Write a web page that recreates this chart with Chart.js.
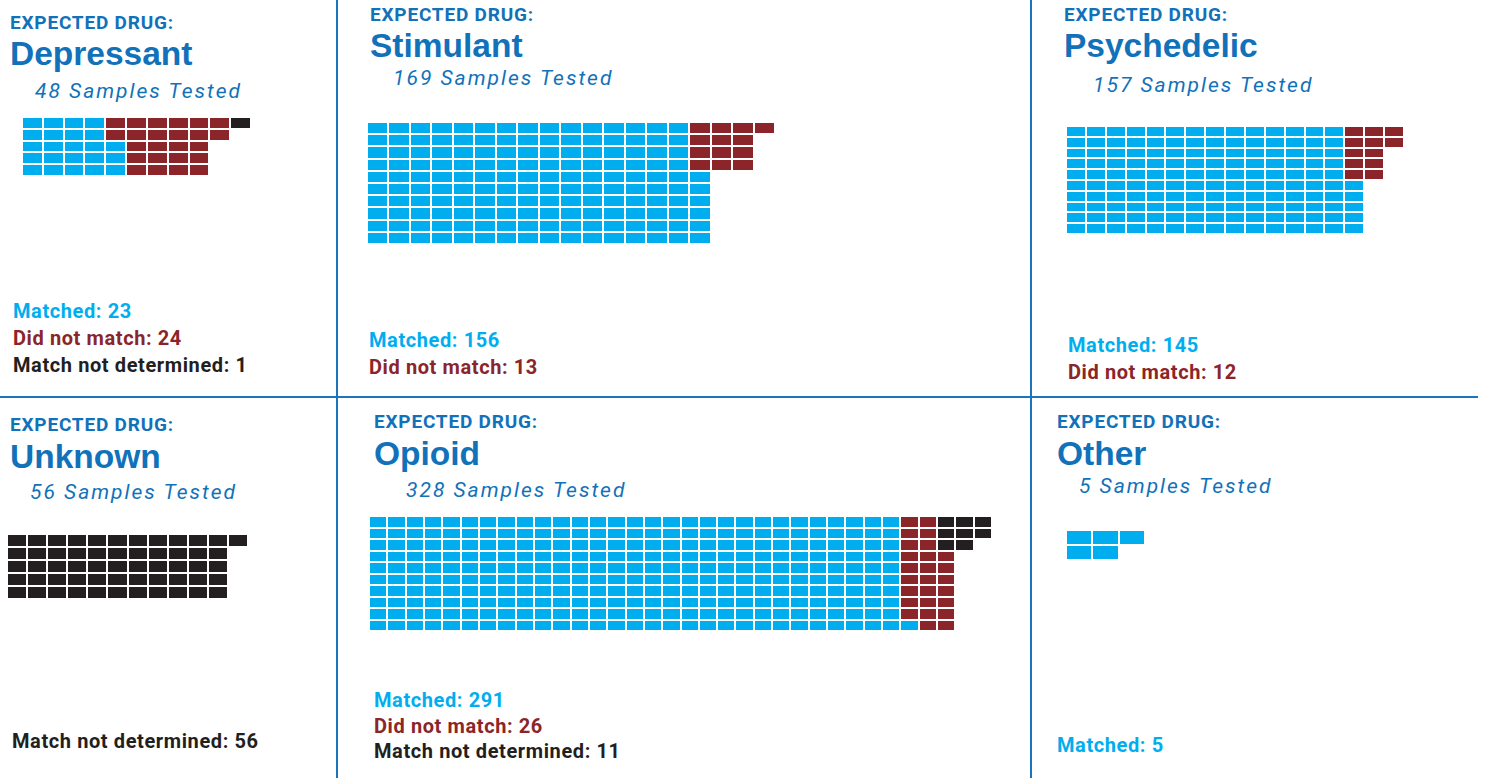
<!DOCTYPE html>
<html>
<head>
<meta charset="utf-8">
<script src="https://cdn.jsdelivr.net/npm/chart.js@4.4.0/dist/chart.umd.min.js"></script>
<style>
  body { margin: 0; background: #fff; width: 1485px; height: 778px; position: relative; overflow: hidden; font-family: Roboto, sans-serif; }
  .t { position: absolute; white-space: nowrap; line-height: 1; }
  .head { font-weight: 700; color: #1172ba; letter-spacing: 0.8px; }
  .name { font-family: "Liberation Sans", Arial, sans-serif; font-weight: 700; color: #1172ba; }
  .count { font-style: italic; font-weight: 400; color: #1172ba; letter-spacing: 2px; }
  .lab { font-weight: 700; letter-spacing: 0.6px; }
  .rule { position: absolute; background: #1a75bc; }
  canvas { position: absolute; }
</style>
</head>
<body>
<div class="rule" style="left:336px;top:0;width:2px;height:778px"></div>
<div class="rule" style="left:1030px;top:0;width:2px;height:778px"></div>
<div class="rule" style="left:0;top:396px;width:1478px;height:2px"></div>
<script>
const drugs = ['Depressant', 'Stimulant', 'Psychedelic', 'Unknown', 'Opioid', 'Other'];
const samplesTested = [48, 169, 157, 56, 328, 5];
const matchedTotals = [23, 156, 145, 0, 291, 5];
const notMatchedTotals = [24, 13, 12, 0, 26, 0];
const notDeterminedTotals = [1, 0, 0, 56, 11, 0];

// squares per row of each waffle, top row first
const depressantMatched = [4, 4, 5, 5, 5];
const depressantNotMatched = [6, 6, 4, 4, 4];
const depressantUndetermined = [1, 0, 0, 0, 0];

const stimulantMatched = [15, 15, 15, 15, 16, 16, 16, 16, 16, 16];
const stimulantNotMatched = [4, 3, 3, 3, 0, 0, 0, 0, 0, 0];
const stimulantUndetermined = [0, 0, 0, 0, 0, 0, 0, 0, 0, 0];

const psychedelicMatched = [14, 14, 14, 14, 14, 15, 15, 15, 15, 15];
const psychedelicNotMatched = [3, 3, 2, 2, 2, 0, 0, 0, 0, 0];
const psychedelicUndetermined = [0, 0, 0, 0, 0, 0, 0, 0, 0, 0];

const unknownMatched = [0, 0, 0, 0, 0];
const unknownNotMatched = [0, 0, 0, 0, 0];
const unknownUndetermined = [12, 11, 11, 11, 11];

const opioidMatched = [29, 29, 29, 29, 29, 29, 29, 29, 29, 30];
const opioidNotMatched = [2, 2, 2, 3, 3, 3, 3, 3, 3, 2];
const opioidUndetermined = [3, 3, 2, 0, 0, 0, 0, 0, 0, 0];

const otherMatched = [3, 2];
const otherNotMatched = [0, 0];
const otherUndetermined = [0, 0];

const waffleRows = [
  [depressantMatched, depressantNotMatched, depressantUndetermined],
  [stimulantMatched, stimulantNotMatched, stimulantUndetermined],
  [psychedelicMatched, psychedelicNotMatched, psychedelicUndetermined],
  [unknownMatched, unknownNotMatched, unknownUndetermined],
  [opioidMatched, opioidNotMatched, opioidUndetermined],
  [otherMatched, otherNotMatched, otherUndetermined]
];

const BLUE = '#00aeef';
const RED = '#8b2529';
const BLACK = '#231f20';

// where each panel sits on the page (baselines in px)
const panels = [
  { x: 10, head: 29, name: 65, countX: 35, count: 99, grid: [23, 118, 227, 57], cols: 11, labX: 13, lab: 318, gap: 27 },
  { x: 370, head: 21, name: 57, countX: 393, count: 86, grid: [368, 123, 406, 120], cols: 19, labX: 369, lab: 347, gap: 27 },
  { x: 1064, head: 21, name: 57, countX: 1093, count: 93, grid: [1067, 127, 336, 106], cols: 17, labX: 1068, lab: 352, gap: 27 },
  { x: 10, head: 431, name: 468, countX: 30, count: 500, grid: [8, 535, 239, 63], cols: 12, labX: 12, lab: 748, gap: 27 },
  { x: 374, head: 428, name: 465, countX: 406, count: 498, grid: [370, 517, 621, 113], cols: 34, labX: 374, lab: 707, gap: 25.5 },
  { x: 1057, head: 428, name: 465, countX: 1079, count: 494, grid: [1067, 531, 77, 28], cols: 3, labX: 1057, lab: 752, gap: 27 }
];

function place(text, cls, x, baseline, size, color) {
  const el = document.createElement('div');
  el.className = 't ' + cls;
  el.textContent = text;
  const k = cls === 'name' ? 0.8465 : 0.842;
  el.style.left = x + 'px';
  el.style.top = (baseline - k * size) + 'px';
  el.style.fontSize = size + 'px';
  if (color) el.style.color = color;
  document.body.appendChild(el);
}

function drawWaffle(p, rows) {
  const [gx, gy, gw, gh] = p.grid;
  const canvas = document.createElement('canvas');
  canvas.width = gw + 2;
  canvas.height = gh + 2;
  canvas.style.left = (gx - 1) + 'px';
  canvas.style.top = (gy - 1) + 'px';
  document.body.appendChild(canvas);

  new Chart(canvas, {
    type: 'bar',
    data: {
      labels: rows[0].map((_, i) => 'row ' + (i + 1)),
      datasets: [
        { label: 'Matched', data: rows[0], backgroundColor: BLUE },
        { label: 'Did not match', data: rows[1], backgroundColor: RED },
        { label: 'Match not determined', data: rows[2], backgroundColor: BLACK }
      ]
    },
    options: {
      indexAxis: 'y',
      responsive: false,
      animation: false,
      events: [],
      barPercentage: 1,
      categoryPercentage: 1,
      plugins: { legend: { display: false }, tooltip: { enabled: false } },
      scales: {
        x: {
          type: 'linear', stacked: true, min: 0, max: p.cols,
          ticks: { display: false, stepSize: 1, maxTicksLimit: 200, autoSkip: false },
          grid: { color: '#fff', lineWidth: 2, z: 1, drawTicks: false },
          border: { display: false }
        },
        y: {
          stacked: true,
          ticks: { display: false },
          grid: { color: '#fff', lineWidth: 2, z: 1, drawTicks: false, offset: true },
          border: { display: false }
        }
      }
    }
  });
}

panels.forEach((p, i) => {
  place('EXPECTED DRUG:', 'head', p.x, p.head, 19);
  place(drugs[i], 'name', p.x, p.name, 33.5);
  place(samplesTested[i] + ' Samples Tested', 'count', p.countX, p.count, 21);
  drawWaffle(p, waffleRows[i]);

  let line = 0;
  if (matchedTotals[i] > 0) place('Matched: ' + matchedTotals[i], 'lab', p.labX, p.lab + p.gap * line++, 20, BLUE);
  if (notMatchedTotals[i] > 0) place('Did not match: ' + notMatchedTotals[i], 'lab', p.labX, p.lab + p.gap * line++, 20, RED);
  if (notDeterminedTotals[i] > 0) place('Match not determined: ' + notDeterminedTotals[i], 'lab', p.labX, p.lab + p.gap * line++, 20, BLACK);
});
</script>
</body>
</html>
